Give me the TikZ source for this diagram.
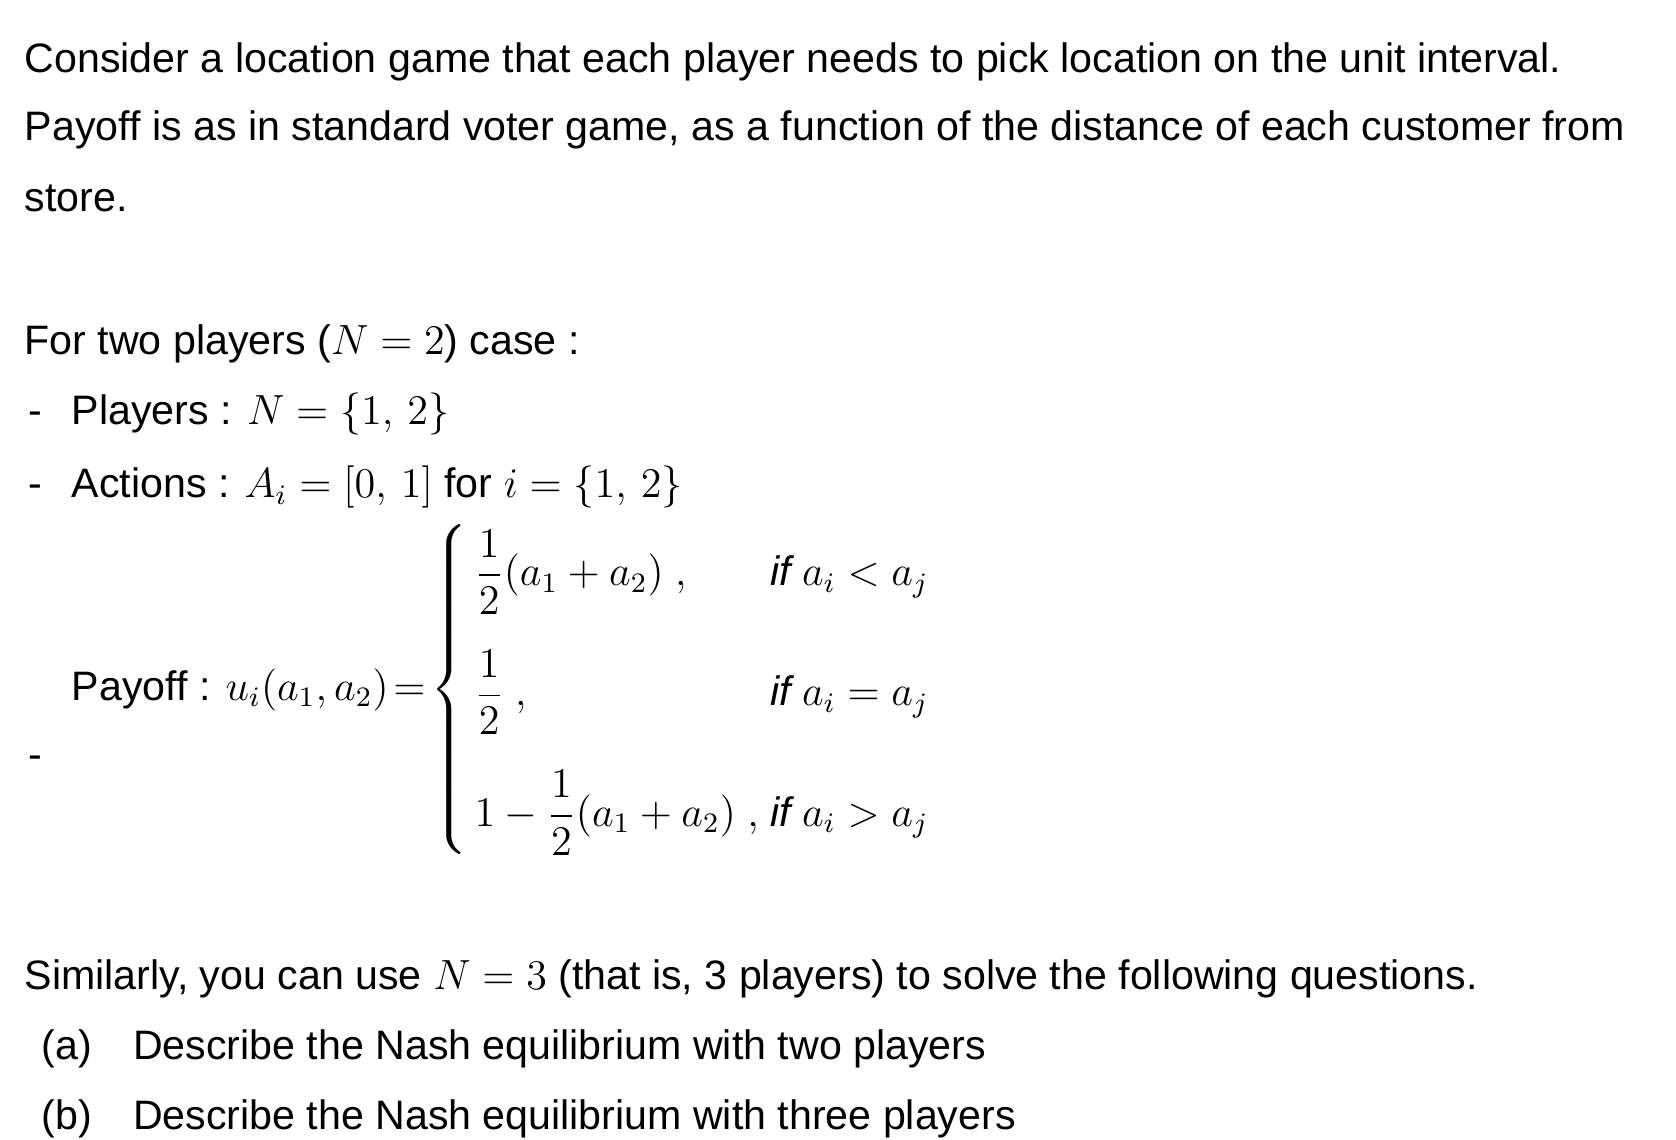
\documentclass[tikz,border=0pt]{standalone}
\usepackage{amsmath}
\usepackage{fontspec}
\setmainfont{Liberation Sans}
\begin{document}
\begin{tikzpicture}[x=0.01cm,y=-0.01cm,
  txt/.style={anchor=base west,inner sep=0pt,font=\fontsize{11.7}{14}\selectfont}]
\useasboundingbox[fill=white] (0,0) rectangle (1676,1140);
\node[txt] (l1) at (24,73) {Consider a location game that each player needs to pick location on the unit interval.};
\node[txt] (l2) at (24,141) {Payoff is as in standard voter game, as a function of the distance of each customer from};
\node[txt] (l3) at (24,212) {store.};
\node[txt] (l4) at (24,355) {For two players ($N=2$) case :};
\node[txt] (d1) at (28,425) {-};
\node[txt] (p1) at (71,425) {Players : $N=\{1,\,2\}$};
\node[txt] (d2) at (28,498) {-};
\node[txt] (p2) at (71,498) {Actions : $A_i=[0,\,1]$ for $i=\{1,\,2\}$};
\node[txt] (p3) at (71,700) {Payoff : $u_i(a_1,a_2)\!=\!\left\{\renewcommand{\arraystretch}{1.8}\begin{array}{@{\,}l@{\ }l}
\dfrac12(a_1+a_2)\ , & \mathit{if}\ a_i<a_j\\[9pt]
\dfrac12\ , & \mathit{if}\ a_i=a_j\\[9pt]
1-\dfrac12(a_1+a_2)\ , & \mathit{if}\ a_i>a_j
\end{array}\right.$};
\node[txt] (d3) at (28,768) {-};
\node[txt] (s1) at (24,989) {Similarly, you can use $N=3$ (that is, 3 players) to solve the following questions.};
\node[txt] (a) at (41,1059) {(a)\quad Describe the Nash equilibrium with two players};
\node[txt] (b) at (41,1129) {(b)\quad Describe the Nash equilibrium with three players};
\end{tikzpicture}
\end{document}
